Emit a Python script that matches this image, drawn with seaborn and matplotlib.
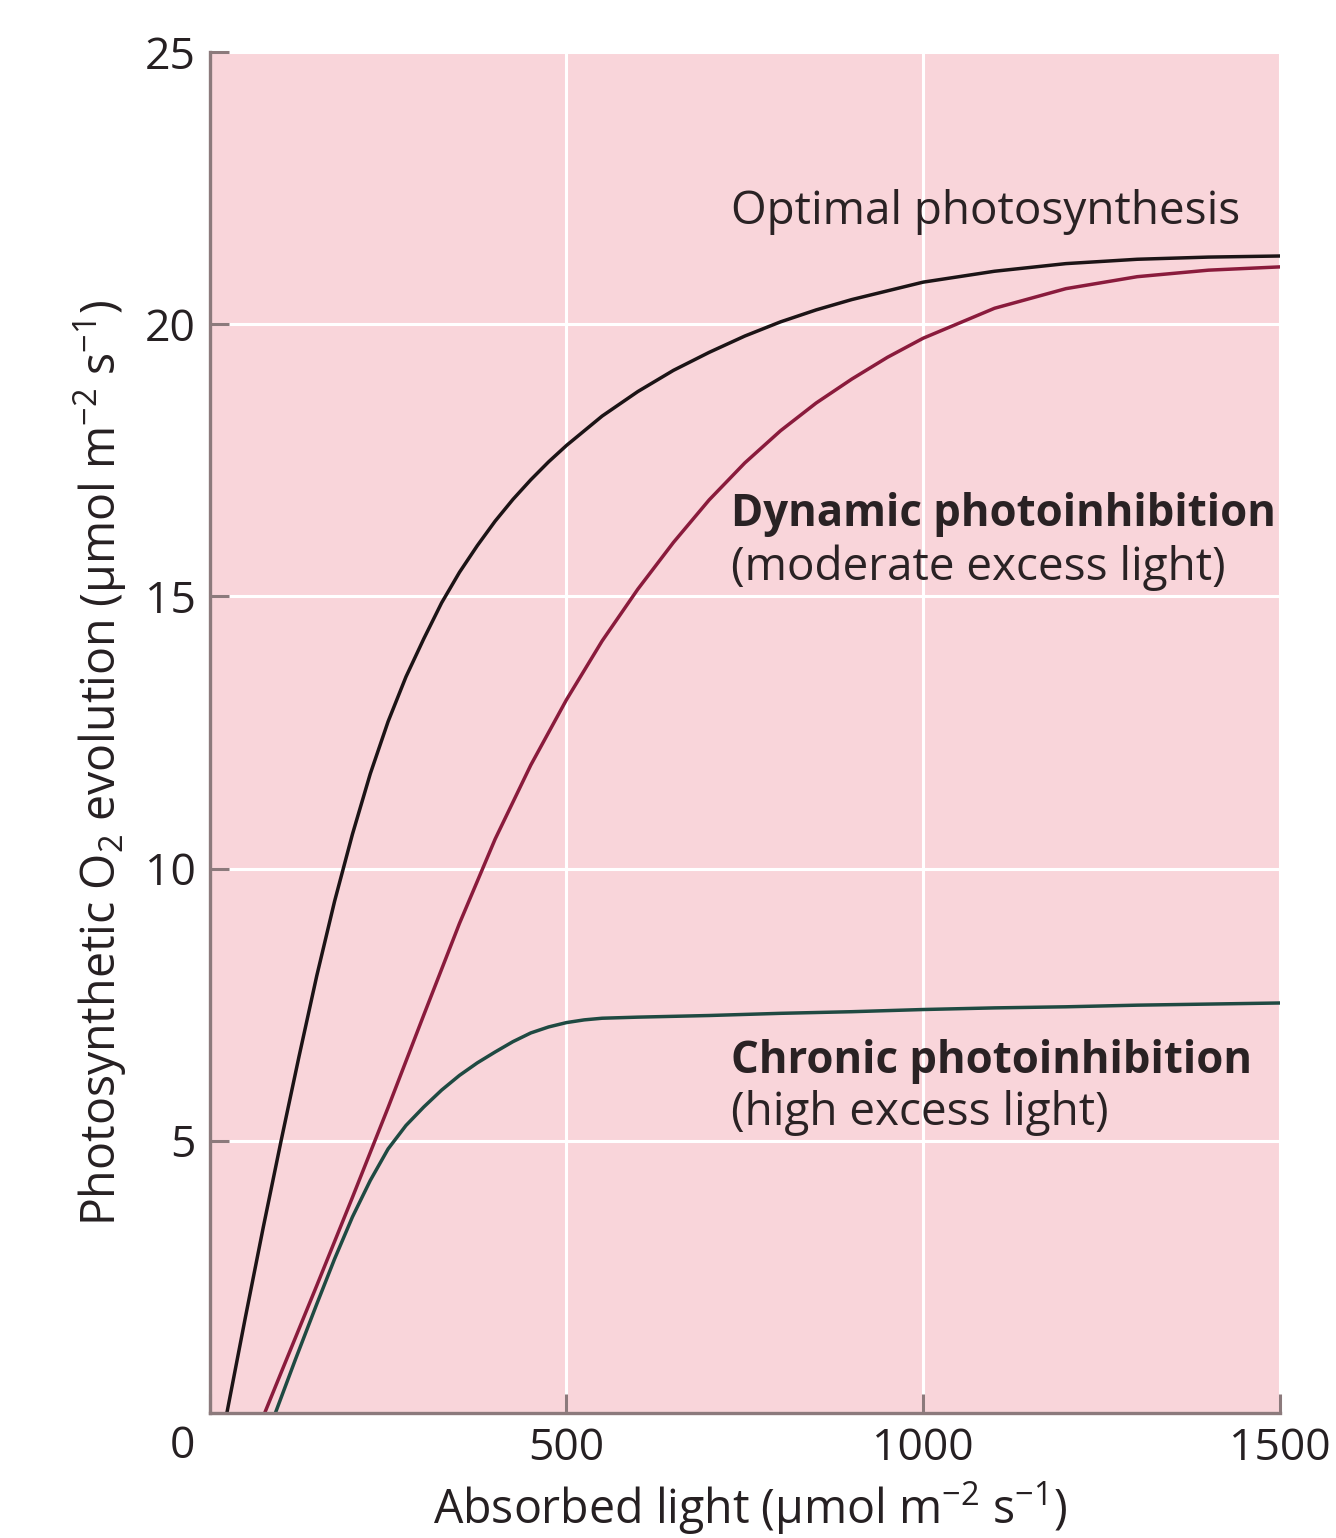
import numpy as np
import pandas as pd
import seaborn as sns
import matplotlib.pyplot as plt

# values
optimal_x = [24, 50, 75, 100, 125, 150, 175, 200, 225, 250, 275, 300, 325, 350, 375, 400, 425, 450, 475, 500,
             550, 600, 650, 700, 750, 800, 850, 900, 1000, 1100, 1200, 1300, 1400, 1500]
optimal_y = [0, 1.76, 3.41, 5.0, 6.54, 8.03, 9.40, 10.63, 11.74, 12.70, 13.52, 14.22, 14.88, 15.44, 15.93, 16.38,
             16.78, 17.14, 17.47, 17.77, 18.31, 18.76, 19.15, 19.48, 19.78, 20.04, 20.26, 20.45, 20.77, 20.97,
             21.11, 21.19, 21.23, 21.25]

dynamic_x = [77, 100, 150, 200, 250, 300, 350, 400, 450, 500, 550, 600, 650, 700, 750, 800, 850, 900, 950, 1000,
             1100, 1200, 1300, 1400, 1500]
dynamic_y = [0, 0.74, 2.34, 3.96, 5.61, 7.31, 8.99, 10.54, 11.90, 13.10, 14.18, 15.13, 15.99, 16.77, 17.45, 18.04,
             18.55, 18.99, 19.39, 19.74, 20.29, 20.65, 20.87, 20.99, 21.05]

chronic_x = [92, 120, 150, 175, 200, 225, 250, 275, 300, 325, 350, 375, 400, 425, 450, 475, 500, 525, 550, 600,
             700, 800, 900, 1000, 1100, 1200, 1300, 1400, 1500]
chronic_y = [0, 0.98, 2.0, 2.83, 3.6, 4.27, 4.85, 5.28, 5.62, 5.93, 6.2, 6.43, 6.63, 6.82, 6.98, 7.09, 7.17, 7.22,
             7.25, 7.27, 7.30, 7.34, 7.37, 7.41, 7.44, 7.46, 7.49, 7.51, 7.53]

x_ticks = [0, 500, 1000, 1500]
y_ticks = [0, 5, 10, 15, 20, 25]

pink = '#f9d5da'
axis_col = '#8c7a7c'
ink = '#262022'

sns.set_theme(style='darkgrid', rc={'axes.facecolor': pink, 'grid.color': 'white',
                                    'grid.linewidth': 2.2, 'figure.facecolor': 'white'})
plt.rcParams['font.family'] = ['Open Sans', 'DejaVu Sans']
plt.rcParams['mathtext.fontset'] = 'custom'
plt.rcParams['mathtext.rm'] = 'Open Sans'
plt.rcParams['mathtext.it'] = 'Open Sans:italic'

fig = plt.figure(figsize=(13.36, 15.38), dpi=100)
ax = fig.add_axes([0.157, 0.0813, 0.801, 0.885])

sns.lineplot(x=optimal_x, y=optimal_y, color='#1c1416', lw=2.5, ax=ax)
sns.lineplot(x=dynamic_x, y=dynamic_y, color='#8a1b3c', lw=2.5, ax=ax)
sns.lineplot(x=chronic_x, y=chronic_y, color='#1f4a42', lw=2.5, ax=ax)

ax.set_xlim(0, 1500)
ax.set_ylim(0, 25)
ax.set_xticks(x_ticks)
ax.set_xticklabels(['', '500', '1000', '1500'])
ax.set_yticks(y_ticks)
ax.set_yticklabels(['', '5', '10', '15', '20', '25'])
ax.text(-38, -0.62, '0', ha='center', va='center', fontsize=32, color=ink, clip_on=False)

for s in ['top', 'right']:
    ax.spines[s].set_visible(False)
for s in ['left', 'bottom']:
    ax.spines[s].set_visible(True)
    ax.spines[s].set_color(axis_col)
    ax.spines[s].set_linewidth(2.4)
ax.tick_params(axis='both', direction='in', length=14, width=2.2, color=axis_col,
               labelsize=32, labelcolor=ink, pad=10, bottom=True, left=True)

ax.set_xlabel('Absorbed light (µmol m$^{-2}$ s$^{-1}$)', fontsize=33.5, color=ink)
ax.set_ylabel('Photosynthetic O$_2$ evolution (µmol m$^{-2}$ s$^{-1}$)', fontsize=33.5, color=ink)
ax.xaxis.set_label_coords(0.505, -0.049)
ax.yaxis.set_label_coords(-0.075, 0.478)

txt = dict(color='#2a2224', va='center', ha='left')
ax.text(730, 22.06, 'Optimal photosynthesis', fontsize=33, **txt)
ax.text(730, 16.5, 'Dynamic photoinhibition', fontsize=31.5, fontweight='bold', **txt)
ax.text(730, 15.52, '(moderate excess light)', fontsize=33, **txt)
ax.text(730, 6.45, 'Chronic photoinhibition', fontsize=31.5, fontweight='bold', **txt)
ax.text(730, 5.51, '(high excess light)', fontsize=33, **txt)

fig.savefig('out.png', dpi=100)
